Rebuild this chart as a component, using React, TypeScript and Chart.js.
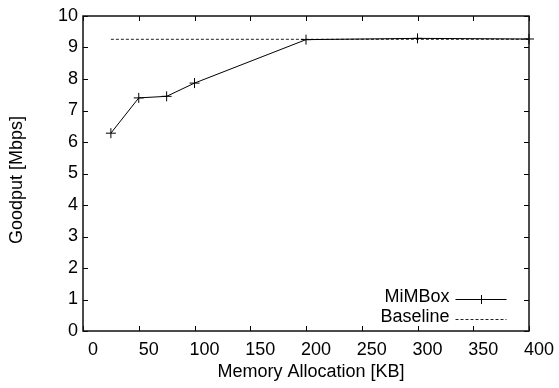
import { useEffect, useRef } from "react";
import { Chart, registerables } from "chart.js";

Chart.register(...registerables);

const memoryKB = [25, 50, 75, 100, 200, 300, 400];
const mimboxGoodput = [6.28, 7.4, 7.45, 7.87, 9.25, 9.29, 9.27];
const baselineKB = [25, 400];
const baselineGoodput = [9.26, 9.26];
const xTickValues = [0, 50, 100, 150, 200, 250, 300, 350, 400];
const yTickValues = [0, 1, 2, 3, 4, 5, 6, 7, 8, 9, 10];
const seriesLabels = ["MiMBox", "Baseline"];
const xTitle = "Memory Allocation [KB]";
const yTitle = "Goodput [Mbps]";

const FONT = "'Liberation Sans', Arial, Helvetica, sans-serif";
const FONT_SIZE = 18;

function drawCross(ctx: CanvasRenderingContext2D, x: number, y: number, r: number) {
  ctx.beginPath();
  ctx.moveTo(x - r, y);
  ctx.lineTo(x + r, y);
  ctx.moveTo(x, y - r);
  ctx.lineTo(x, y + r);
  ctx.stroke();
}

const framePlugin = {
  id: "gnuplotFrame",
  afterDraw(chart: any) {
    const { ctx, chartArea: a, scales } = chart;
    ctx.save();
    ctx.strokeStyle = "#000";
    ctx.lineWidth = 1;
    const tl = 5;
    ctx.beginPath();
    for (const v of xTickValues) {
      const px = Math.round(scales.x.getPixelForValue(v)) + 0.5;
      ctx.moveTo(px, a.bottom);
      ctx.lineTo(px, a.bottom - tl);
      ctx.moveTo(px, a.top);
      ctx.lineTo(px, a.top + tl);
    }
    for (const v of yTickValues) {
      const py = Math.round(scales.y.getPixelForValue(v)) + 0.5;
      ctx.moveTo(a.left, py);
      ctx.lineTo(a.left + tl, py);
      ctx.moveTo(a.right, py);
      ctx.lineTo(a.right - tl, py);
    }
    ctx.stroke();
    ctx.lineWidth = 1.5;
    ctx.strokeStyle = "#111";
    ctx.strokeRect(a.left, a.top, a.right - a.left, a.bottom - a.top);

    // axis titles
    ctx.fillStyle = "#000";
    ctx.font = `${FONT_SIZE}px ${FONT}`;
    ctx.textAlign = "center";
    ctx.textBaseline = "middle";
    ctx.fillText(xTitle, 311, 372);
    ctx.save();
    ctx.translate(17, 180);
    ctx.rotate(-Math.PI / 2);
    ctx.fillText(yTitle, 0, 0);
    ctx.restore();

    // legend (gnuplot style, bottom right inside)
    const textRight = a.right - 79.5;
    const sampleL = a.right - 73.5;
    const sampleR = a.right - 22.5;
    const baseY = a.bottom - 33.5;
    chart.data.datasets.forEach((ds: any, i: number) => {
      const y = baseY + i * 20;
      ctx.textAlign = "right";
      ctx.fillStyle = "#000";
      ctx.fillText(ds.label, textRight, y);
      const ly = Math.round(y + 1) + 0.5;
      ctx.strokeStyle = ds.borderColor;
      ctx.lineWidth = ds.borderWidth;
      ctx.setLineDash(ds.borderDash || []);
      ctx.beginPath();
      ctx.moveTo(sampleL, ly);
      ctx.lineTo(sampleR, ly);
      ctx.stroke();
      ctx.setLineDash([]);
      if (ds.pointRadius > 0) {
        drawCross(ctx, Math.round((sampleL + sampleR) / 2) + 0.5, ly, 4.5);
      }
    });
    ctx.restore();
  },
};

export default function App() {
  const ref = useRef<HTMLCanvasElement | null>(null);
  useEffect(() => {
    if (!ref.current) return;
    const chart = new Chart(ref.current, {
      type: "line",
      data: {
        datasets: [
          {
            label: seriesLabels[0],
            data: memoryKB.map((x, i) => ({ x, y: mimboxGoodput[i] })),
            borderColor: "#000",
            borderWidth: 1,
            pointStyle: "cross",
            pointRadius: 5,
            pointBorderColor: "#000",
            pointBorderWidth: 1,
            pointBackgroundColor: "#000",
            fill: false,
            tension: 0,
            clip: false,
          } as any,
          {
            label: seriesLabels[1],
            data: baselineKB.map((x, i) => ({ x, y: baselineGoodput[i] })),
            borderColor: "#222",
            borderWidth: 1,
            borderDash: [3, 2],
            pointRadius: 0,
            fill: false,
            clip: false,
          } as any,
        ],
      },
      options: {
        animation: false,
        responsive: false,
        layout: { padding: { left: 0, top: 16, right: 30, bottom: 0 } },
        plugins: { legend: { display: false }, tooltip: { enabled: false } },
        scales: {
          x: {
            type: "linear",
            min: 0,
            max: 400,
            grid: { display: false, drawTicks: false },
            border: { display: false },
            afterBuildTicks: (s: any) => {
              s.ticks = xTickValues.map((v) => ({ value: v }));
            },
            afterFit: (s: any) => {
              s.height = 57;
            },
            ticks: {
              color: "#000",
              font: { family: FONT, size: FONT_SIZE },
              padding: 8,
              labelOffset: 10,
              maxRotation: 0,
              autoSkip: false,
            },
          },
          y: {
            type: "linear",
            min: 0,
            max: 10,
            grid: { display: false, drawTicks: false },
            border: { display: false },
            afterBuildTicks: (s: any) => {
              s.ticks = yTickValues.map((v) => ({ value: v }));
            },
            afterFit: (s: any) => {
              s.width = 83;
            },
            ticks: {
              color: "#000",
              font: { family: FONT, size: FONT_SIZE },
              padding: 5,
              autoSkip: false,
            },
          },
        },
      },
      plugins: [framePlugin],
    });
    return () => chart.destroy();
  }, []);
  return (
    <div style={{ position: "absolute", left: 0, top: 0, width: 559, height: 388, background: "#fff" }}>
      <canvas ref={ref} width={559} height={388} style={{ display: "block" }} />
    </div>
  );
}
